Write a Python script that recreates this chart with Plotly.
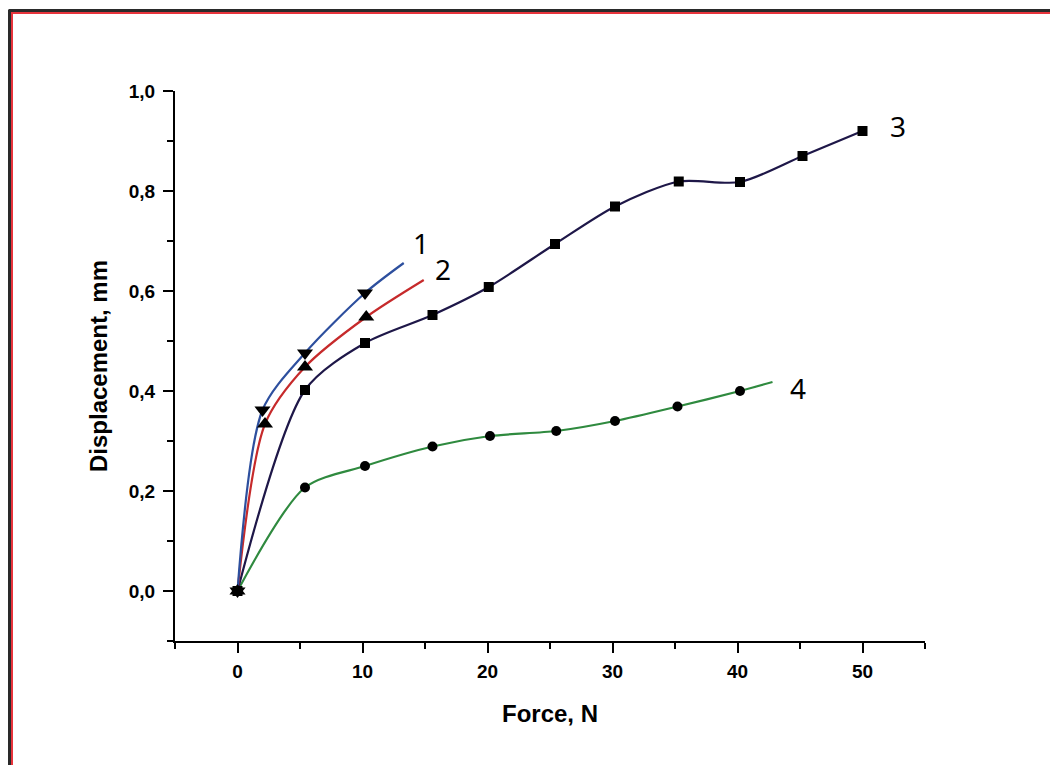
import plotly.graph_objects as go

# ---- data ----
curve_labels = ["1", "2", "3", "4"]

s1_force = [0, 2.0, 5.4, 10.2]
s1_disp = [0, 0.362, 0.476, 0.596]
s1_fit_force = [0, 2.0, 5.4, 10.2, 13.3]
s1_fit_disp = [0, 0.362, 0.476, 0.596, 0.656]

s2_force = [0, 2.2, 5.4, 10.3]
s2_disp = [0, 0.334, 0.448, 0.548]
s2_fit_force = [0, 2.2, 5.4, 10.3, 14.9]
s2_fit_disp = [0, 0.334, 0.448, 0.548, 0.622]

s3_force = [0, 5.4, 10.2, 15.6, 20.1, 25.4, 30.2, 35.3, 40.2, 45.2, 50.0]
s3_disp = [0, 0.402, 0.496, 0.552, 0.608, 0.694, 0.769, 0.819, 0.818, 0.870, 0.920]

s4_force = [0, 5.4, 10.2, 15.6, 20.2, 25.5, 30.2, 35.2, 40.2]
s4_disp = [0, 0.207, 0.250, 0.289, 0.310, 0.320, 0.340, 0.369, 0.400]
s4_fit_force = [0, 5.4, 10.2, 15.6, 20.2, 25.5, 30.2, 35.2, 40.2, 42.8]
s4_fit_disp = [0, 0.207, 0.250, 0.289, 0.310, 0.320, 0.340, 0.369, 0.400, 0.418]

x_ticks = [0, 10, 20, 30, 40, 50]
y_ticks = [0.0, 0.2, 0.4, 0.6, 0.8, 1.0]

# ---- styles ----
c1, c2, c3, c4 = "#2d4f9e", "#c62a2b", "#1e1748", "#2f8a3f"

fig = go.Figure()

def line(x, y, color, smooth=0.8):
    fig.add_trace(go.Scatter(x=x, y=y, mode="lines",
                             line=dict(color=color, width=2.2, shape="spline", smoothing=smooth),
                             showlegend=False, hoverinfo="skip"))

def marks(x, y, symbol, size):
    fig.add_trace(go.Scatter(x=x, y=y, mode="markers",
                             marker=dict(symbol=symbol, size=size, color="black",
                                         line=dict(width=0)),
                             showlegend=False))

line(s4_fit_force, s4_fit_disp, c4)
line(s3_force, s3_disp, c3)
line(s2_fit_force, s2_fit_disp, c2)
line(s1_fit_force, s1_fit_disp, c1)

marks(s4_force, s4_disp, "circle", 10)
marks(s3_force, s3_disp, "square", 10)
marks(s2_force, s2_disp, "triangle-up", 14)
marks(s1_force, s1_disp, "triangle-down", 14)

label_pos = [(14.7, 0.697), (16.4, 0.645), (52.8, 0.93), (44.8, 0.406)]
for lab, (lx, ly) in zip(curve_labels, label_pos):
    fig.add_annotation(x=lx, y=ly, text=lab, showarrow=False,
                       font=dict(family="Noto Sans", size=28, color="black"))

axis_common = dict(showline=True, linecolor="black", linewidth=2, ticks="outside",
                   tickcolor="black", tickwidth=2, ticklen=10, showgrid=False, zeroline=False,
                   tickfont=dict(family="Liberation Sans", size=19, color="black", weight="bold"),
                   mirror=False)

fig.update_xaxes(range=[-5, 55], tickvals=x_ticks, ticklabelstandoff=2,
                 minor=dict(ticks="outside", ticklen=6, tickwidth=2, tickcolor="black",
                            dtick=5, tick0=0, showgrid=False),
                 title=dict(text="Force, N", standoff=24,
                            font=dict(family="Liberation Sans", size=24, color="black", weight="bold")),
                 **axis_common)
fig.update_yaxes(range=[-0.1, 1.0], tickvals=y_ticks, tickformat=".1f", ticklabelstandoff=4,
                 minor=dict(ticks="outside", ticklen=6, tickwidth=2, tickcolor="black",
                            dtick=0.1, tick0=0, showgrid=False),
                 title=dict(text="Displacement, mm", standoff=14,
                            font=dict(family="Liberation Sans", size=24, color="black", weight="bold")),
                 **axis_common)

# the page has an 8px body margin: figure is drawn at offset (8, 8)
OFF = 8
ML, MR, MT, MB = 175 - OFF, 133, 91 - OFF, 124
FW, FH = 1058 - OFF, 765 - OFF
W, H = 750.0, 550.0
def px(x):
    return (x - 175) / W
def py(y):
    return (641 - y) / H

# frame of the original picture (top and left edges)
fig.add_shape(type="line", xref="paper", yref="paper", x0=px(8.5), x1=px(1070), y0=py(10.5), y1=py(10.5),
              line=dict(color="#2a2a2a", width=3))
fig.add_shape(type="line", xref="paper", yref="paper", x0=px(9.5), x1=px(9.5), y0=py(10), y1=py(780),
              line=dict(color="#2a2a2a", width=3))
fig.add_shape(type="line", xref="paper", yref="paper", x0=px(12), x1=px(1070), y0=py(13), y1=py(13),
              line=dict(color="#e8343c", width=2))
fig.add_shape(type="line", xref="paper", yref="paper", x0=px(12), x1=px(12), y0=py(12), y1=py(780),
              line=dict(color="#e8343c", width=2))

fig.update_layout(width=FW, height=FH, separators=",.",
                  margin=dict(l=ML, r=MR, t=MT, b=MB),
                  paper_bgcolor="white", plot_bgcolor="white")

fig.write_html("out.html")
